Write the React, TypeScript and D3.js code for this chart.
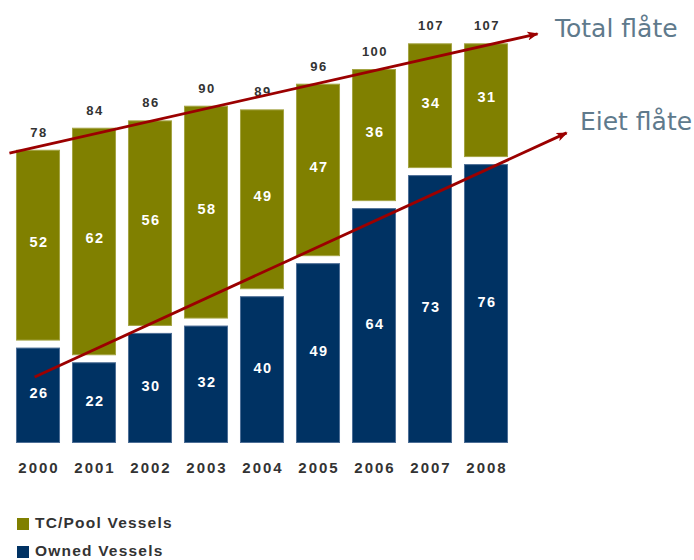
import React from "react";
import * as d3 from "d3";

const years = ["2000", "2001", "2002", "2003", "2004", "2005", "2006", "2007", "2008"];
const owned = [26, 22, 30, 32, 40, 49, 64, 73, 76];
const tcPool = [52, 62, 56, 58, 49, 47, 36, 34, 31];
// trend arrows, in [bar index, value] units
const totalTrend = [[-0.51, 79], [8.92, 111.5]];
const ownedTrend = [[-0.06, 18], [9.44, 84.5]];

const W = 694;
const H = 560;
const GAP = 7;
const NAVY = "#003263";
const OLIVE = "#808000";
const RED = "#9b0000";

export default function App() {
  const x = d3
    .scaleBand()
    .domain(years)
    .range([10, 514])
    .paddingInner(0.214)
    .paddingOuter(0.107);
  const y = d3.scaleLinear().domain([0, 110]).range([443, 39.3]);
  const bw = x.bandwidth();
  const xi = d3
    .scaleLinear()
    .domain([0, years.length - 1])
    .range([x(years[0])! + bw / 2, x(years[years.length - 1])! + bw / 2]);
  const line = d3
    .line<number[]>()
    .x((d) => xi(d[0]))
    .y((d) => y(d[1]));

  return (
    <svg
      width={W}
      height={H}
      style={{ position: "absolute", left: 0, top: 0, fontFamily: "Arial, 'Liberation Sans', sans-serif" }}
    >
      <defs>
        <marker id="arr" viewBox="0 0 10 8" refX="9" refY="4" markerWidth="4" markerHeight="3.2" orient="auto" markerUnits="strokeWidth">
          <path d="M0,0 L10,4 L0,8 L2.5,4 Z" fill={RED} />
        </marker>
      </defs>
      <rect width={W} height={H} fill="#fff" />
      {years.map((yr, i) => {
        const x0 = x(yr)!;
        const cx = x0 + bw / 2;
        const total = owned[i] + tcPool[i];
        const oTop = y(owned[i]);
        const tTop = y(total) - GAP;
        const tBot = oTop - GAP;
        return (
          <g key={yr}>
            <rect x={x0 + 0.5} y={oTop + 0.5} width={bw - 1} height={y(0) - oTop - 1} fill={NAVY} stroke="#4d6e96" strokeWidth={1} />
            <rect x={x0 + 0.5} y={tTop + 0.5} width={bw - 1} height={tBot - tTop - 1} fill={OLIVE} stroke="#a4a444" strokeWidth={1} />
            <text x={cx + 1} y={(oTop + y(0)) / 2 + 3} textAnchor="middle" fill="#fff" fontSize={14.5} fontWeight="bold" letterSpacing={1.5}>
              {owned[i]}
            </text>
            <text x={cx + 1} y={(tTop + tBot) / 2 + 2} textAnchor="middle" fill="#fff" fontSize={14.5} fontWeight="bold" letterSpacing={1.5}>
              {tcPool[i]}
            </text>
            <text x={cx + 1} y={tTop - 13} textAnchor="middle" fill="#333" fontSize={13} fontWeight="bold" letterSpacing={1.5}>
              {total}
            </text>
            <text x={cx + 1} y={472.5} textAnchor="middle" fill="#333" fontSize={15} fontWeight="bold" letterSpacing={2}>
              {yr}
            </text>
          </g>
        );
      })}
      <path d={line(totalTrend)!} stroke={RED} strokeWidth={2.8} fill="none" markerEnd="url(#arr)" />
      <path d={line(ownedTrend)!} stroke={RED} strokeWidth={2.8} fill="none" markerEnd="url(#arr)" />
      <text x={555} y={37} fill="#5f7a8c" fontSize={25} fontFamily="'DejaVu Sans', sans-serif">
        Total flåte
      </text>
      <text x={580} y={130} fill="#5f7a8c" fontSize={25} fontFamily="'DejaVu Sans', sans-serif">
        Eiet flåte
      </text>
      <rect x={17} y={518} width={12} height={12} fill={OLIVE} />
      <text x={35} y={528} fill="#333" fontSize={15.5} fontWeight="bold" letterSpacing={1.2}>
        TC/Pool Vessels
      </text>
      <rect x={17} y={546} width={12} height={12} fill={NAVY} />
      <text x={35} y={556} fill="#333" fontSize={15.5} fontWeight="bold" letterSpacing={1.2}>
        Owned Vessels
      </text>
    </svg>
  );
}
